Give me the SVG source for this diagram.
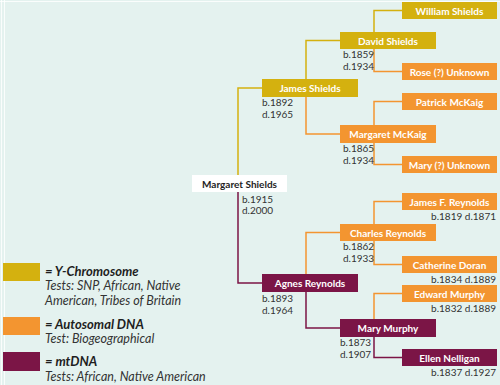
<svg xmlns="http://www.w3.org/2000/svg" width="500" height="385" viewBox="0 0 500 385">
<style>
.bg{fill:#e4f2ef}
.y{fill:#d4b10f}
.o{fill:#f39530}
.m{fill:#7b1546}
.w{fill:#ffffff}
.lbl{font-family:Lato,"Open Sans",sans-serif;font-weight:bold;font-size:10px;fill:#ffffff;text-anchor:middle}
.lbld{font-family:Lato,"Open Sans",sans-serif;font-weight:bold;font-size:10px;fill:#1e1e1e;text-anchor:middle}
.dt{font-family:Lato,"Open Sans",sans-serif;font-size:10px;fill:#333333}
.dr{font-family:Lato,"Open Sans",sans-serif;font-size:10px;fill:#333333;text-anchor:end}
.ly{stroke:#d4b10f;stroke-width:1.5;fill:none}
.lo{stroke:#f39530;stroke-width:1.5;fill:none}
.lm{stroke:#7b1546;stroke-width:1.5;fill:none}
.lh{font-family:Lato,"Open Sans",sans-serif;font-weight:bold;font-style:italic;font-size:13px;fill:#1e1e1e}
.lt{font-family:Lato,"Open Sans",sans-serif;font-style:italic;font-size:12.5px;fill:#333333}
</style>
<rect class="bg" x="0" y="0" width="500" height="385"/>
<path d="M0,1.5H500M1.5,0V385M4.5,0V385" stroke="#ffffff" stroke-width="1" fill="none" opacity="0.8"/>

<g id="connectors">
<path class="ly" d="M238,175V88H262"/>
<path class="lm" d="M238,192V283H262"/>
<path class="ly" d="M306,79V40.5H340"/>
<path class="lo" d="M306,97V134H340"/>
<path class="ly" d="M374,32V10.5H402"/>
<path class="lo" d="M374,49V71.5H402"/>
<path class="lo" d="M374,125V101.5H402"/>
<path class="lo" d="M374,143V164.5H402"/>
<path class="lo" d="M374,224V201.5H402"/>
<path class="lo" d="M374,241V264.5H402"/>
<path class="lo" d="M306,274V232.5H340"/>
<path class="lm" d="M306,292V328H340"/>
<path class="lo" d="M374,319V293.5H402"/>
<path class="lm" d="M374,337V357.5H402"/>
</g>

<g id="william-shields"><rect class="y" x="402" y="2" width="95" height="17"/><text class="lbl" x="449.5" y="14.5">William Shields</text></g>
<g id="david-shields"><rect class="y" x="340" y="32" width="96" height="17"/><text class="lbl" x="388" y="44.5">David Shields</text>
<text class="dt" x="343" y="58">b.1859</text><text class="dt" x="343" y="70">d.1934</text></g>
<g id="rose-unknown"><rect class="o" x="402" y="63" width="95" height="17"/><text class="lbl" x="449.5" y="75.5">Rose (?) Unknown</text></g>
<g id="james-shields"><rect class="y" x="262" y="79" width="96" height="18"/><text class="lbl" x="310" y="92">James Shields</text>
<text class="dt" x="262" y="106">b.1892</text><text class="dt" x="262" y="118">d.1965</text></g>
<g id="patrick-mckaig"><rect class="o" x="402" y="93" width="95" height="17"/><text class="lbl" x="449.5" y="105.5">Patrick McKaig</text></g>
<g id="margaret-mckaig"><rect class="o" x="340" y="125" width="96" height="18"/><text class="lbl" x="388" y="138">Margaret McKaig</text>
<text class="dt" x="343" y="152">b.1865</text><text class="dt" x="343" y="164">d.1934</text></g>
<g id="mary-unknown"><rect class="o" x="402" y="156" width="95" height="17"/><text class="lbl" x="449.5" y="168.5">Mary (?) Unknown</text></g>
<g id="margaret-shields"><rect class="w" x="192" y="175" width="95" height="17"/><text class="lbld" x="239.5" y="187.5">Margaret Shields</text>
<text class="dt" x="242" y="203">b.1915</text><text class="dt" x="242" y="214">d.2000</text></g>
<g id="james-f-reynolds"><rect class="o" x="402" y="193" width="95" height="17"/><text class="lbl" x="449.5" y="205.5">James F. Reynolds</text>
<text class="dr" x="496" y="220">b.1819 d.1871</text></g>
<g id="charles-reynolds"><rect class="o" x="340" y="224" width="96" height="17"/><text class="lbl" x="388" y="236.5">Charles Reynolds</text>
<text class="dt" x="343" y="250">b.1862</text><text class="dt" x="343" y="262">d.1933</text></g>
<g id="catherine-doran"><rect class="o" x="402" y="256" width="95" height="17"/><text class="lbl" x="449.5" y="268.5">Catherine Doran</text>
<text class="dr" x="496" y="283">b.1834 d.1889</text></g>
<g id="agnes-reynolds"><rect class="m" x="262" y="274" width="96" height="18"/><text class="lbl" x="310" y="287">Agnes Reynolds</text>
<text class="dt" x="262" y="302">b.1893</text><text class="dt" x="262" y="314">d.1964</text></g>
<g id="edward-murphy"><rect class="o" x="402" y="285" width="95" height="17"/><text class="lbl" x="449.5" y="297.5">Edward Murphy</text>
<text class="dr" x="496" y="312">b.1832 d.1889</text></g>
<g id="mary-murphy"><rect class="m" x="340" y="319" width="96" height="18"/><text class="lbl" x="388" y="332">Mary Murphy</text>
<text class="dt" x="340" y="346">b.1873</text><text class="dt" x="340" y="358">d.1907</text></g>
<g id="ellen-nelligan"><rect class="m" x="402" y="349" width="95" height="17"/><text class="lbl" x="449.5" y="361.5">Ellen Nelligan</text>
<text class="dr" x="496" y="376">b.1837 d.1927</text></g>

<g id="legend">
<rect class="y" x="3" y="263" width="37" height="18"/>
<text class="lh" x="45" y="276">= Y-Chromosome</text>
<text class="lt" x="45" y="290">Tests: SNP, African, Native</text>
<text class="lt" x="45" y="305">American, Tribes of Britain</text>
<rect class="o" x="3" y="317" width="37" height="18"/>
<text class="lh" x="45" y="329">= Autosomal DNA</text>
<text class="lt" x="45" y="343">Test: Biogeographical</text>
<rect class="m" x="3" y="352" width="37" height="19"/>
<text class="lh" x="45" y="366">= mtDNA</text>
<text class="lt" x="45" y="381">Tests: African, Native American</text>
</g>
</svg>
